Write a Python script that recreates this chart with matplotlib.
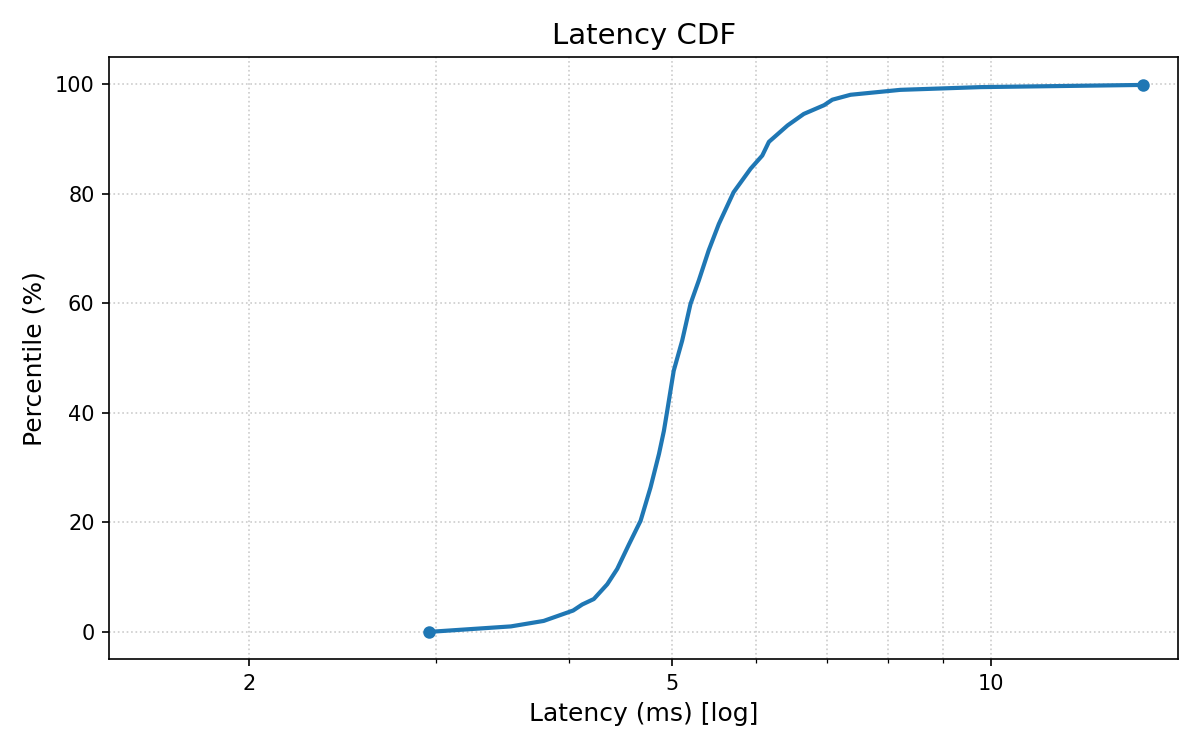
import matplotlib
matplotlib.use("Agg")
import matplotlib.pyplot as plt
from matplotlib.ticker import ScalarFormatter, NullFormatter

latency_ms = [2.957, 3.53, 3.79, 4.04, 4.12, 4.225, 4.35, 4.445, 4.56, 4.676,
              4.778, 4.866, 4.918, 4.954, 5.024, 5.117, 5.21, 5.305, 5.42,
              5.54, 5.72, 5.935, 6.087, 6.175, 6.43, 6.66, 6.96, 7.085, 7.37,
              8.21, 9.77, 13.89]
percentile = [0, 1, 2, 3.9, 5.0, 6.0, 8.7, 11.5, 16.0, 20.3,
              26.4, 32.5, 36.7, 40.4, 47.7, 53.2, 59.9, 64.2, 69.7,
              74.5, 80.3, 84.6, 87.0, 89.5, 92.5, 94.6, 96.2, 97.2, 98.1,
              99.0, 99.5, 99.9]
x_ticks = [2, 5, 10]

fig, ax = plt.subplots(figsize=(8, 5), dpi=150)
ax.plot(latency_ms, percentile, color="#1f77b4", linewidth=2,
        marker="o", markersize=5, markevery=[0, len(latency_ms) - 1])
ax.set_xscale("log")
ax.set_xlim(1.478, 15.0)
ax.set_ylim(-5, 105)
ax.set_xticks(x_ticks)
ax.xaxis.set_major_formatter(ScalarFormatter())
ax.xaxis.set_minor_formatter(NullFormatter())
ax.grid(True, which="both", linestyle=":", color="#cccccc", linewidth=0.8)
ax.set_title("Latency CDF", fontsize=14)
ax.set_xlabel("Latency (ms) [log]", fontsize=12)
ax.set_ylabel("Percentile (%)", fontsize=12)
fig.subplots_adjust(left=0.091, right=0.982, top=0.924, bottom=0.121)
fig.savefig("out.png")
